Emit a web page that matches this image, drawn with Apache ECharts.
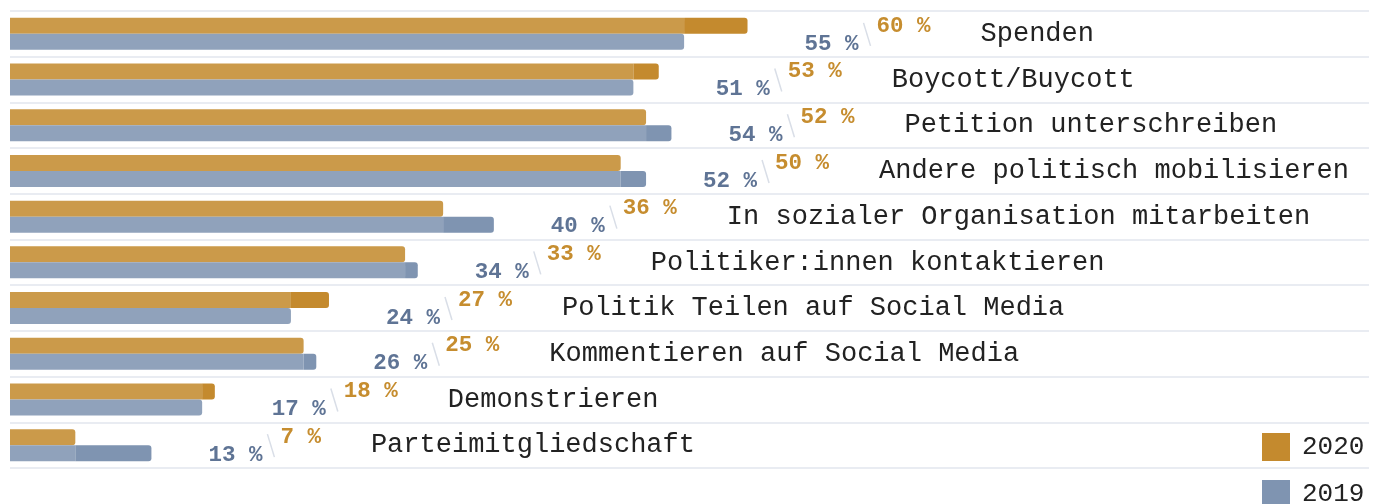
<!DOCTYPE html>
<html>
<head>
<meta charset="utf-8">
<script src="https://cdn.jsdelivr.net/npm/echarts@6.0.0/dist/echarts.min.js"></script>
<style>
  html, body { margin: 0; padding: 0; background: #fff; }
  #chart { width: 1382px; height: 504px; }
</style>
</head>
<body>
<div id="chart"></div>
<script>
// Formen politischer Beteiligung, Anteil in %
var categories = [
  'Spenden',
  'Boycott/Buycott',
  'Petition unterschreiben',
  'Andere politisch mobilisieren',
  'In sozialer Organisation mitarbeiten',
  'Politiker:innen kontaktieren',
  'Politik Teilen auf Social Media',
  'Kommentieren auf Social Media',
  'Demonstrieren',
  'Parteimitgliedschaft'
];
var values2020 = [60, 53, 52, 50, 36, 33, 27, 25, 18, 7];
var values2019 = [55, 51, 54, 52, 40, 34, 24, 26, 17, 13];

var ORANGE = '#c48a2e', ORANGE_LIGHT = '#cb9a4a';
var BLUE = '#7f94b1', BLUE_LIGHT = '#90a2bb';
var FONT = '"Liberation Mono", "DejaVu Sans Mono", monospace';

// gemeinsamer Teil (heller) + Überschuss (dunkler)
var common = values2020.map(function (v, i) { return Math.min(v, values2019[i]); });
var extra2020 = values2020.map(function (v, i) { return v - common[i]; });
var extra2019 = values2019.map(function (v, i) { return v - common[i]; });

function baseData(extra) {
  return common.map(function (v, i) {
    return {
      value: v,
      itemStyle: { borderRadius: extra[i] > 0 ? 0 : [0, 3, 3, 0] }
    };
  });
}

var labelData = categories.map(function (c, i) {
  return [Math.max(values2020[i], values2019[i]), i, values2020[i], values2019[i]];
});

function renderLabels(params, api) {
  var i = params.dataIndex;
  var p = api.coord([api.value(0), i]);
  var x0 = p[0], y0 = p[1];
  var t20 = api.value(2) + ' %';
  var t19 = api.value(3) + ' %';
  var orangeX = x0 + 129;
  return {
    type: 'group',
    children: [
      {
        type: 'text', x: x0 + 57, y: y0 + 10,
        style: { text: t19, fill: '#5f7495', font: 'bold 22.5px ' + FONT, align: 'left', verticalAlign: 'middle' }
      },
      {
        type: 'line',
        shape: { x1: x0 + 116, y1: y0 - 11, x2: x0 + 123, y2: y0 + 12 },
        style: { stroke: '#d9dee7', lineWidth: 1.5 }
      },
      {
        type: 'text', x: orangeX, y: y0 - 8,
        style: { text: t20, fill: '#c68d2f', font: 'bold 22.5px ' + FONT, align: 'left', verticalAlign: 'middle' }
      },
      {
        type: 'text', x: orangeX + t20.length * 13.5 + 50, y: y0,
        style: { text: categories[i], fill: '#222222', font: '27px ' + FONT, align: 'left', verticalAlign: 'middle' }
      }
    ]
  };
}

var chart = echarts.init(document.getElementById('chart'), null, { renderer: 'canvas' });
chart.setOption({
  animation: false,
  legend: {
    data: ['2020', '2019'],
    orient: 'vertical',
    left: 1262,
    top: 433,
    height: 120,
    padding: 0,
    itemWidth: 28,
    itemHeight: 28,
    itemGap: 19,
    icon: 'rect',
    textStyle: { color: '#222', fontFamily: FONT, fontSize: 26, padding: [0, 0, 0, 7] },
    selectedMode: false
  },
  grid: { left: 10, right: 13, top: 11, bottom: 36 },
  xAxis: {
    type: 'value',
    min: 1.85,
    max: 109,
    show: false,
    splitLine: { show: false }
  },
  yAxis: {
    type: 'category',
    inverse: true,
    data: categories,
    axisLine: { show: false },
    axisTick: { show: false },
    axisLabel: { show: false },
    splitLine: { show: true, lineStyle: { color: '#e2e6ee', width: 1.5 } }
  },
  series: [
    {
      name: '2020 gemeinsam', type: 'bar', stack: 'a', barWidth: 16, barGap: 0,
      itemStyle: { color: ORANGE_LIGHT }, data: baseData(extra2020)
    },
    {
      name: '2020', type: 'bar', stack: 'a', barWidth: 16, barGap: 0,
      itemStyle: { color: ORANGE, borderRadius: [0, 3, 3, 0] }, data: extra2020
    },
    {
      name: '2019 gemeinsam', type: 'bar', stack: 'b', barWidth: 16, barGap: 0,
      itemStyle: { color: BLUE_LIGHT }, data: baseData(extra2019)
    },
    {
      name: '2019', type: 'bar', stack: 'b', barWidth: 16, barGap: 0,
      itemStyle: { color: BLUE, borderRadius: [0, 3, 3, 0] }, data: extra2019
    },
    {
      type: 'custom', silent: true,
      encode: { x: 0, y: 1 },
      renderItem: renderLabels,
      data: labelData
    }
  ]
});
</script>
</body>
</html>
